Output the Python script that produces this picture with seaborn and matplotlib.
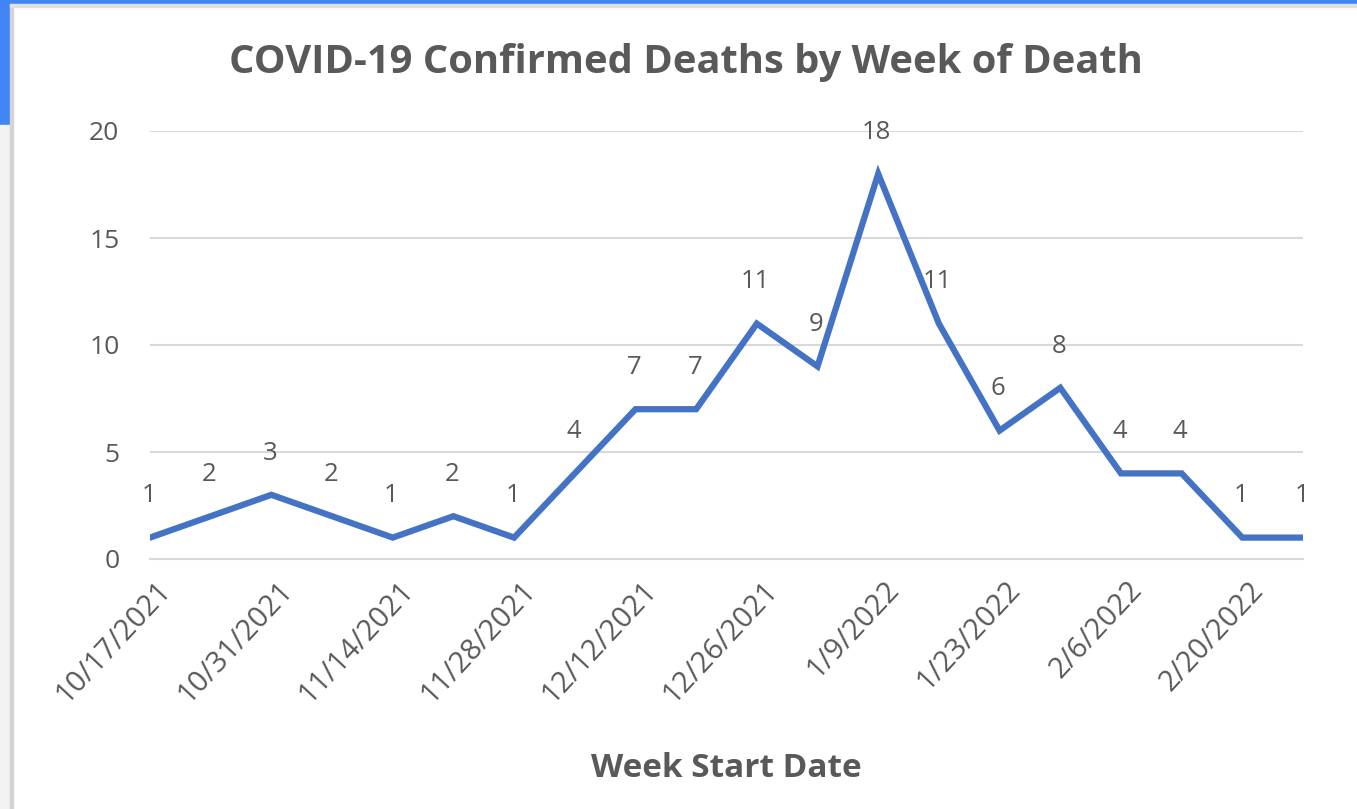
import matplotlib.pyplot as plt
import matplotlib.transforms as mtransforms
import seaborn as sns
import pandas as pd
from matplotlib.patches import Rectangle

weeks = ["10/17/2021", "10/24/2021", "10/31/2021", "11/7/2021", "11/14/2021",
         "11/21/2021", "11/28/2021", "12/5/2021", "12/12/2021", "12/19/2021",
         "12/26/2021", "1/2/2022", "1/9/2022", "1/16/2022", "1/23/2022",
         "1/30/2022", "2/6/2022", "2/13/2022", "2/20/2022", "2/27/2022"]
deaths = [1, 2, 3, 2, 1, 2, 1, 4, 7, 7, 11, 9, 18, 11, 6, 8, 4, 4, 1, 1]
y_ticks = [0, 5, 10, 15, 20]

df = pd.DataFrame({"pos": range(len(weeks)), "week": weeks, "deaths": deaths})

sns.set_style("white")
plt.rcParams['font.family'] = ['Open Sans', 'DejaVu Sans']

text_gray = "#595959"
line_blue = "#4472C4"
grid_gray = "#D9D9D9"

fig = plt.figure(figsize=(13.57, 8.09), dpi=100)
fig.patch.set_facecolor("white")

# screenshot frame bits
fig.patches.append(Rectangle((0, 1 - 4 / 809), 1, 4 / 809, transform=fig.transFigure,
                             color="#4285F4", zorder=0))
fig.patches.append(Rectangle((0, 1 - 125 / 809), 10 / 1357, 125 / 809, transform=fig.transFigure,
                             color="#4285F4", zorder=0))
fig.patches.append(Rectangle((0, 0), 10 / 1357, 1 - 125 / 809, transform=fig.transFigure,
                             color="#F3F3F3", zorder=0))
fig.patches.append(Rectangle((10 / 1357, 0), 3 / 1357, 1 - 4 / 809, transform=fig.transFigure,
                             color="#D4D4D4", zorder=0))
fig.patches.append(Rectangle((10 / 1357, 1 - 7 / 809), 1, 3 / 809, transform=fig.transFigure,
                             color="#E0E0E0", zorder=0))

ax = fig.add_axes([150 / 1357, 1 - 559 / 809, (1303 - 150) / 1357, (559 - 131) / 809])
ax.set_facecolor("none")

sns.lineplot(data=df, x="pos", y="deaths", ax=ax, color=line_blue, linewidth=4.5,
             solid_joinstyle="miter", solid_capstyle="round", zorder=3)

for x, y in zip(df["pos"], df["deaths"]):
    ax.annotate(str(y), (x, y), xytext=(-1, 30), textcoords="offset points",
                ha="center", va="center", fontsize=18.5, color=text_gray,
                annotation_clip=False, clip_on=False)

ax.set_xlim(0, len(weeks) - 1)
ax.set_ylim(0, 20)
ax.set_yticks(y_ticks)
ax.set_yticklabels([str(t) for t in y_ticks], fontsize=19, color=text_gray)
ax.tick_params(axis="y", length=0, pad=22)
ax.yaxis.grid(True, color=grid_gray, linewidth=1.5)
ax.set_axisbelow(True)

ax.set_xticks(df["pos"][::2])
ax.set_xticklabels(df["week"][::2], rotation=47, ha="right", rotation_mode="anchor",
                   fontsize=21, color=text_gray)
ax.tick_params(axis="x", direction="out", length=8, width=1.2, color=grid_gray, pad=4)
shift = mtransforms.ScaledTranslation(6 / 100, 0, fig.dpi_scale_trans)
for lbl in ax.get_xticklabels():
    lbl.set_transform(lbl.get_transform() + shift)

for s in ["top", "right", "left"]:
    ax.spines[s].set_visible(False)
ax.spines["bottom"].set_color(grid_gray)
ax.spines["bottom"].set_linewidth(1.5)

ax.set_xlabel("Week Start Date", fontsize=24, fontweight="bold", color=text_gray, labelpad=31)
ax.set_ylabel("")

fig.text(686 / 1357, 1 - 63 / 809, "COVID-19 Confirmed Deaths by Week of Death",
         ha="center", va="center", fontsize=28.7, fontweight="bold", color=text_gray)

plt.savefig("out.png", dpi=100)
